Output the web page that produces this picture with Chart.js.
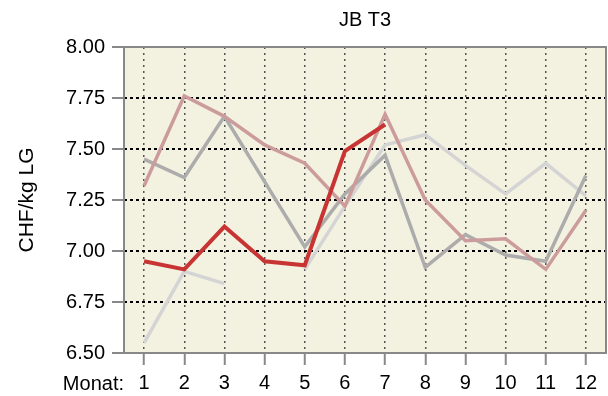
<!DOCTYPE html>
<html lang="de">
    <head>
        <meta charset="UTF-8" />
        <title>JB T3</title>
        <script src="https://cdn.jsdelivr.net/npm/chart.js@4.4.0/dist/chart.umd.min.js"></script>
        <style>
            body { margin: 0; background: #fff; }
            #wrapper { width: 608px; height: 396px; }
        </style>
    </head>
    <body>
        <div id="wrapper">
            <canvas id="canvas" width="608" height="396"></canvas>
        </div>
        <script>
            // Monate
            let labels = ['1','2','3','4','5','6','7','8','9','10','11','12'];
            // CHF/kg LG pro Jahr (gelesen aus der Vorlage)
            let serieRot   = [6.95, 6.91, 7.12, 6.95, 6.93, 7.49, 7.62, null, null, null, null, null];
            let serieRosa  = [7.32, 7.76, 7.66, 7.52, 7.43, 7.22, 7.67, 7.25, 7.05, 7.06, 6.91, 7.20];
            let serieGrau  = [7.45, 7.36, 7.66, 7.34, 7.02, 7.28, 7.47, 6.92, 7.08, 6.98, 6.95, 7.37];
            let serieHell  = [6.55, 6.90, 6.84, null, 6.91, 7.22, 7.52, 7.57, 7.42, 7.28, 7.43, 7.27];

            let titel = 'JB T3';
            let fontFam = 'Arial, "Liberation Sans", sans-serif';

            // Hintergrund, Rahmen, Titel und "Monat:" selber zeichnen
            let frame = {
                id: 'frame',
                beforeDraw: function(chart){
                    let a = chart.chartArea;
                    let ctx = chart.ctx;
                    ctx.save();
                    ctx.fillStyle = '#f3f2e0';
                    ctx.fillRect(a.left, a.top, a.right - a.left, a.bottom - a.top);
                    ctx.restore();
                },
                afterDraw: function(chart){
                    let a = chart.chartArea;
                    let ctx = chart.ctx;
                    ctx.save();
                    ctx.strokeStyle = '#888888';
                    ctx.lineWidth = 2;
                    ctx.strokeRect(a.left, a.top, a.right - a.left, a.bottom - a.top);
                    ctx.fillStyle = '#000';
                    ctx.font = '20px ' + fontFam;
                    ctx.textBaseline = 'middle';
                    ctx.textAlign = 'right';
                    ctx.fillText('Monat:', a.left, 384);
                    ctx.textAlign = 'center';
                    ctx.fillText(titel, (a.left + a.right) / 2, 20);
                    ctx.restore();
                }
            };

            let options = {
                type: 'line',
                data: {
                    labels: labels,
                    datasets: [{
                        data: serieRot,
                        borderColor: '#c83434',
                        borderWidth: 4
                    },{
                        data: serieRosa,
                        borderColor: '#cc9c9c',
                        borderWidth: 3.5
                    },{
                        data: serieGrau,
                        borderColor: '#acacac',
                        borderWidth: 3.5
                    },{
                        data: serieHell,
                        borderColor: '#d4d4d4',
                        borderWidth: 3.5
                    }]
                },
                options: {
                    responsive: false,
                    animation: false,
                    spanGaps: false,
                    elements: {
                        point: { radius: 0, hoverRadius: 0 },
                        line: { tension: 0, borderJoinStyle: 'miter', borderCapStyle: 'butt' }
                    },
                    layout: { padding: { left: 0, right: 2, top: 47, bottom: 0 } },
                    plugins: {
                        legend: { display: false },
                        tooltip: { enabled: false },
                        title: { display: false }
                    },
                    scales: {
                        x: {
                            type: 'category',
                            offset: true,
                            grid: {
                                offset: false,
                                color: '#555555',
                                lineWidth: 1.5,
                                tickColor: '#888888',
                                tickWidth: 2,
                                tickLength: 12
                            },
                            border: { display: false, dash: [2, 4] },
                            ticks: {
                                color: '#000',
                                font: { family: fontFam, size: 20 },
                                padding: 6,
                                maxRotation: 0,
                                autoSkip: false
                            },
                            afterFit: function(scale){ scale.height = 43; }
                        },
                        y: {
                            min: 6.5,
                            max: 8.0,
                            grid: {
                                color: function(c){
                                    let v = c.tick ? c.tick.value : 0;
                                    return (v <= 6.5 || v >= 8.0) ? 'rgba(0,0,0,0)' : '#000';
                                },
                                lineWidth: 2,
                                tickColor: '#888888',
                                tickWidth: 2,
                                tickLength: 12
                            },
                            border: { display: false, dash: [3, 3] },
                            ticks: {
                                stepSize: 0.25,
                                color: '#000',
                                font: { family: fontFam, size: 20 },
                                padding: 7,
                                callback: function(v){ return Number(v).toFixed(2); }
                            },
                            title: {
                                display: true,
                                text: 'CHF/kg LG',
                                color: '#000',
                                font: { family: fontFam, size: 21 },
                                padding: { top: 15, bottom: 0 }
                            },
                            afterFit: function(scale){ scale.width = 124; }
                        }
                    }
                },
                plugins: [frame]
            };

            let chart1 = new Chart(document.getElementById('canvas'), options);
        </script>
    </body>
</html>
